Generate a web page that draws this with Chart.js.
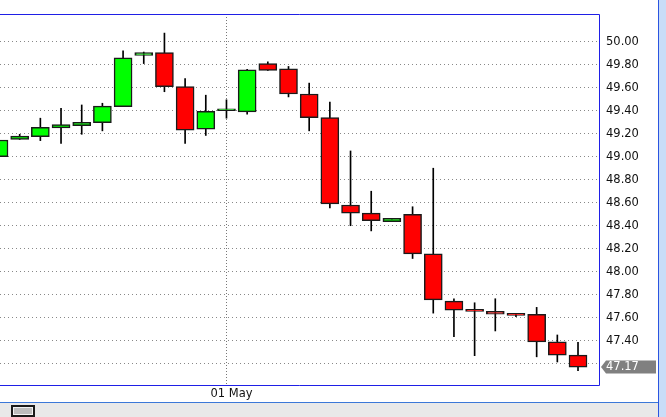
<!DOCTYPE html>
<html>
<head>
<meta charset="utf-8">
<script src="https://cdn.jsdelivr.net/npm/chart.js@4"></script>
<style>
  html, body { margin: 0; padding: 0; background: #fff; }
</style>
</head>
<body>
<canvas id="priceChart" width="666" height="417"></canvas>
<script>
// Candle data
const labels = ['', '', '', '', '', '', '', '', '', '', '', '01 May', '', '', '',
    '', '', '', '', '', '', '', '', '', '', '', '', '', ''];
const opens = [49.00, 49.15, 49.175, 49.25, 49.27, 49.295, 49.435, 49.88, 49.905, 49.61,
    49.24, 49.40, 49.39, 49.81, 49.765, 49.545, 49.34, 48.58, 48.51, 48.435,
    48.50, 48.155, 47.745, 47.66, 47.655, 47.63, 47.63, 47.39, 47.275];
const highs = [49.25, 49.195, 49.335, 49.42, 49.45, 49.465, 49.92, 49.91, 50.075, 49.68,
    49.535, 49.495, 49.76, 49.825, 49.785, 49.64, 49.475, 49.05, 48.70, 48.465,
    48.565, 48.90, 47.765, 47.73, 47.765, 47.635, 47.69, 47.45, 47.385];
const lows = [48.91, 49.15, 49.14, 49.115, 49.195, 49.225, 49.435, 49.81, 49.565, 49.115,
    49.185, 49.335, 49.37, 49.75, 49.52, 49.225, 48.555, 48.40, 48.355, 48.435,
    48.115, 47.64, 47.435, 47.27, 47.485, 47.61, 47.26, 47.215, 47.14];
const closes = [49.145, 49.18, 49.255, 49.28, 49.30, 49.44, 49.86, 49.905, 49.61, 49.23,
    49.395, 49.405, 49.755, 49.75, 49.545, 49.34, 48.59, 48.51, 48.445, 48.465,
    48.155, 47.755, 47.665, 47.655, 47.63, 47.62, 47.39, 47.275, 47.17];
const yTicks = [47.2, 47.4, 47.6, 47.8, 48.0, 48.2, 48.4, 48.6, 48.8, 49.0,
    49.2, 49.4, 49.6, 49.8, 50.0];

const bodies = opens.map((o, i) => ({ x: i, y: [o, closes[i]] }));
const wicks = lows.map((l, i) => ({ x: i, y: [l, highs[i]] }));
const bodyColors = opens.map((o, i) => closes[i] >= o ? '#00ff00' : '#ff0000');
const lastClose = closes[closes.length - 1];

const tickFont = { family: 'DejaVu Sans', size: 11.5 };

// window frame, scroll strip and last price tag
const framePlugin = {
    id: 'frame',
    beforeDraw(chart) {
        const ctx = chart.ctx;
        const w = chart.width, h = chart.height;
        ctx.save();
        ctx.fillStyle = '#ffffff';
        ctx.fillRect(0, 0, w, h);
        ctx.fillStyle = '#c9ddf8';
        ctx.fillRect(659, 0, w - 659, h);
        ctx.fillStyle = '#2b55e0';
        ctx.fillRect(658, 0, 1, h);
        ctx.fillStyle = '#e9e9e9';
        ctx.fillRect(0, 403, 658, h - 403);
        ctx.fillStyle = '#3b78d8';
        ctx.fillRect(0, 402, 658, 1);
        // scroll thumb
        ctx.fillStyle = '#1a1a1a';
        ctx.fillRect(11, 405, 24, 12);
        ctx.fillStyle = '#f2f2f2';
        ctx.fillRect(13, 407, 20, 8);
        ctx.fillStyle = '#bdbdbd';
        ctx.fillRect(14, 408, 18, 6);
        ctx.restore();
    },
    afterDraw(chart) {
        const ctx = chart.ctx;
        const a = chart.chartArea;
        ctx.save();
        ctx.strokeStyle = '#1f1fe6';
        ctx.lineWidth = 1;
        ctx.beginPath();
        ctx.moveTo(0, a.top + 0.5);
        ctx.lineTo(a.right + 0.5, a.top + 0.5);
        ctx.lineTo(a.right + 0.5, a.bottom + 0.5);
        ctx.lineTo(0, a.bottom + 0.5);
        ctx.stroke();

        const y = Math.round(chart.scales.y.getPixelForValue(lastClose));
        ctx.fillStyle = '#808080';
        ctx.beginPath();
        ctx.moveTo(a.right + 2, y);
        ctx.lineTo(a.right + 7, y - 6.5);
        ctx.lineTo(656, y - 6.5);
        ctx.lineTo(656, y + 6.5);
        ctx.lineTo(a.right + 7, y + 6.5);
        ctx.closePath();
        ctx.fill();
        ctx.fillStyle = '#ffffff';
        ctx.font = '11.5px "DejaVu Sans"';
        ctx.textBaseline = 'middle';
        ctx.fillText(lastClose.toFixed(2), a.right + 7, y + 0.5);
        ctx.restore();
    }
};

const priceConfig = {
    type: 'bar',
    data: {
        datasets: [{
            label: 'body',
            data: bodies,
            backgroundColor: bodyColors,
            borderColor: '#1a1a1a',
            borderWidth: 1.5,
            borderSkipped: false,
            barThickness: 18,
            minBarLength: 2,
            grouped: false
        }, {
            label: 'wick',
            data: wicks,
            backgroundColor: '#000000',
            borderWidth: 0,
            barThickness: 1,
            grouped: false
        }]
    },
    options: {
        responsive: false,
        animation: false,
        events: [],
        layout: { padding: { top: 14, left: 0, right: 0, bottom: 0 } },
        plugins: {
            legend: { display: false },
            tooltip: { enabled: false }
        },
        scales: {
            x: {
                type: 'linear',
                offset: false,
                min: 0.0484,
                max: 29.015,
                afterBuildTicks: (scale) => {
                    scale.ticks = labels.map((l, i) => ({ value: i })).filter(t => labels[t.value]);
                },
                afterFit: (scale) => { scale.height = 32; },
                ticks: {
                    callback: (v) => labels[v] || '',
                    font: tickFont,
                    color: '#111111',
                    padding: 2,
                    labelOffset: 5,
                    maxRotation: 0
                },
                grid: {
                    offset: false,
                    color: '#777777',
                    drawTicks: false
                },
                border: { display: false, dash: [1, 2] }
            },
            y: {
                position: 'right',
                beginAtZero: false,
                min: 47.015,
                max: 50.241,
                afterBuildTicks: (scale) => {
                    scale.ticks = yTicks.map(v => ({ value: v }));
                },
                afterFit: (scale) => { scale.width = 67; },
                ticks: {
                    // the price tag covers the label next to it
                    callback: (v) => Math.abs(v - lastClose) < 0.1 ? '' : v.toFixed(2),
                    font: tickFont,
                    color: '#111111',
                    padding: 7
                },
                grid: {
                    color: '#888888',
                    drawTicks: false
                },
                border: { display: false, dash: [1, 3] }
            }
        }
    },
    plugins: [framePlugin]
};

const priceChart = new Chart(
    document.getElementById('priceChart'),
    priceConfig
);
</script>
</body>
</html>
